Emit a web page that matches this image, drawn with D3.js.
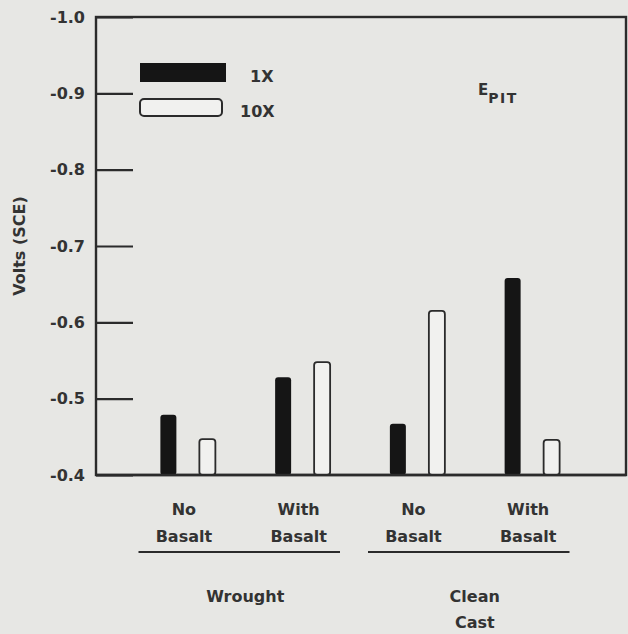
<!DOCTYPE html>
<html>
<head>
<meta charset="utf-8">
<script src="https://cdn.jsdelivr.net/npm/d3@7"></script>
<style>
  html, body { margin: 0; padding: 0; background: #e7e7e4; }
  svg { display: block; }
  text { font-family: "DejaVu Sans", sans-serif; font-weight: bold; fill: #333; }
</style>
</head>
<body>
<script>
// data (E_PIT, volts vs SCE)
const categories = ['No Basalt W', 'With Basalt W', 'No Basalt C', 'With Basalt C'];
const catLines = [['No', 'Basalt'], ['With', 'Basalt'], ['No', 'Basalt'], ['With', 'Basalt']];
const series = ['1X', '10X'];
const values1X = [-0.479, -0.528, -0.467, -0.658];
const values10X = [-0.447, -0.548, -0.615, -0.446];
const yTicks = [-1.0, -0.9, -0.8, -0.7, -0.6, -0.5, -0.4];
const materials = [
  { lines: ['Wrought'], from: 0, to: 1 },
  { lines: ['Clean', 'Cast'], from: 2, to: 3 }
];

const w = 628, h = 634;
const plotL = 96, plotR = 626, plotT = 17, plotB = 475;
const ink = '#2b2b2b';

const svg = d3.select('body').append('svg')
  .attr('width', w)
  .attr('height', h);

const y = d3.scaleLinear().domain([-0.4, -1.0]).range([plotB, plotT]);
const x = d3.scaleBand().domain(categories).range([130.5, 589.5]);
const xs = d3.scalePoint().domain(series).range([-19.5, 19.5]);
const barW = 16;

// y axis, ticks pointing into the plot
const yAxis = svg.append('g')
  .attr('transform', `translate(${plotL},0)`)
  .call(d3.axisLeft(y).tickValues(yTicks).tickSizeInner(-37).tickSizeOuter(0)
    .tickPadding(11).tickFormat(d => d.toFixed(1)));
yAxis.select('.domain').remove();
yAxis.selectAll('line').attr('stroke', ink).attr('stroke-width', 2.2);
yAxis.selectAll('text')
  .attr('font-family', '"DejaVu Sans", sans-serif')
  .attr('font-size', 16)
  .attr('font-weight', 'bold')
  .attr('fill', '#333');

// frame
svg.append('rect')
  .attr('x', plotL).attr('y', plotT)
  .attr('width', plotR - plotL).attr('height', plotB - plotT)
  .attr('fill', 'none').attr('stroke', ink).attr('stroke-width', 2.4);

svg.append('text')
  .attr('transform', `translate(25,${(192 + 300) / 2}) rotate(-90)`)
  .attr('text-anchor', 'middle')
  .attr('font-size', 16)
  .text('Volts (SCE)');

// bars
const rows = [];
categories.forEach((c, i) => {
  rows.push({ cat: c, s: '1X', v: values1X[i] });
  rows.push({ cat: c, s: '10X', v: values10X[i] });
});

svg.append('g').selectAll('rect')
  .data(rows)
  .join('rect')
  .attr('x', d => x(d.cat) + x.bandwidth() / 2 + xs(d.s) - barW / 2)
  .attr('y', d => y(d.v))
  .attr('width', barW)
  .attr('height', d => y(-0.4) - y(d.v))
  .attr('rx', 3)
  .attr('fill', d => d.s === '1X' ? '#151515' : '#f1f1ef')
  .attr('stroke', ink)
  .attr('stroke-width', d => d.s === '1X' ? 0 : 1.8);

// redraw the base line over the bar feet
svg.append('line')
  .attr('x1', plotL).attr('x2', plotR)
  .attr('y1', plotB).attr('y2', plotB)
  .attr('stroke', ink).attr('stroke-width', 2.4);

// category labels
const catG = svg.append('g').selectAll('text')
  .data(categories)
  .join('text')
  .attr('text-anchor', 'middle')
  .attr('font-size', 16)
  .attr('x', d => x(d) + x.bandwidth() / 2 - 4);
catG.append('tspan').attr('y', 515).text((d, i) => catLines[i][0]);
catG.append('tspan')
  .attr('x', d => x(d) + x.bandwidth() / 2 - 4)
  .attr('y', 542).text((d, i) => catLines[i][1]);

// material groups
materials.forEach(m => {
  const x0 = x(categories[m.from]) + 8;
  const x1 = x(categories[m.to]) + x.bandwidth() - 20;
  svg.append('line')
    .attr('x1', x0).attr('x2', x1)
    .attr('y1', 552).attr('y2', 552)
    .attr('stroke', ink).attr('stroke-width', 2);
  const cx = (x(categories[m.from]) + x(categories[m.to]) + x.bandwidth()) / 2;
  m.lines.forEach((t, j) => {
    svg.append('text')
      .attr('x', cx).attr('y', 602 + j * 26)
      .attr('text-anchor', 'middle')
      .attr('font-size', 16)
      .text(t);
  });
});

// legend
const legend = svg.append('g');
legend.append('rect')
  .attr('x', 140).attr('y', 63).attr('width', 86).attr('height', 19)
  .attr('fill', '#151515');
legend.append('rect')
  .attr('x', 140).attr('y', 99).attr('width', 82).attr('height', 17)
  .attr('rx', 4)
  .attr('fill', '#f1f1ef').attr('stroke', ink).attr('stroke-width', 2);
legend.append('text').attr('x', 250).attr('y', 82).attr('font-size', 16).text(series[0]);
legend.append('text').attr('x', 240).attr('y', 117).attr('font-size', 16).text(series[1]);

// E_PIT label
const ep = svg.append('text').attr('x', 478).attr('y', 95).attr('font-size', 15);
ep.append('tspan').text('E');
ep.append('tspan').attr('dy', 8).attr('font-size', 14).attr('letter-spacing', 1.5).text('PIT');
</script>
</body>
</html>
